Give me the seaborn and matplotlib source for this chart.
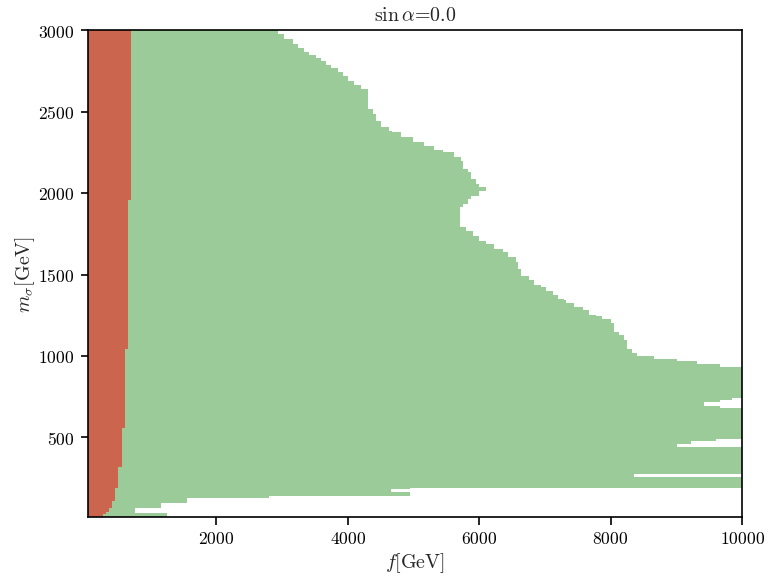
import numpy as np
import matplotlib
matplotlib.use("Agg")
import matplotlib.pyplot as plt
import seaborn as sns

sns.set_theme(style="ticks", context="notebook")
plt.rcParams['font.family'] = ['cmr10', 'DejaVu Serif']
plt.rcParams['mathtext.fontset'] = 'cm'
plt.rcParams['axes.formatter.use_mathtext'] = True
plt.rcParams['axes.unicode_minus'] = False

# red region: right edge f [GeV] for m_sigma bands starting at red_m
red_m = [10, 28, 45, 69, 110, 187, 320, 560, 1045, 1960, 3000]
red_f = [277, 328, 363, 413, 459, 510, 560, 608, 658, 708, 708]

# green region: right edge f [GeV], value holds upward from each m_sigma
edge_m = [10, 935, 950, 969, 984, 1001, 1021, 1045, 1096, 1127,
          1148, 1205, 1229, 1246, 1254, 1280, 1301, 1327, 1341, 1352,
          1372, 1402, 1423, 1433, 1464, 1494, 1535, 1576, 1607, 1638,
          1658, 1689, 1709, 1739, 1770, 1791, 1883, 1913, 1934, 1964,
          1985, 2015, 2036, 2056, 2087, 2128, 2148, 2199, 2220, 2250,
          2266, 2291, 2312, 2342, 2373, 2383, 2404, 2444, 2485, 2516,
          2608, 2638, 2665, 2689, 2720, 2741, 2767, 2787, 2808, 2832,
          2848, 2869, 2890, 2914, 2945, 2975, 3000]
edge_f = [10000, 9658, 9321, 9017, 8662, 8409, 8333, 8257, 8206, 8130,
          8054, 8004, 7877, 7776, 7674, 7573, 7446, 7320, 7294, 7193,
          7117, 7016, 6940, 6838, 6762, 6636, 6585, 6560, 6433, 6357,
          6230, 6104, 6002, 5901, 5800, 5709, 5709, 5749, 5825, 5876,
          6002, 6104, 6002, 5952, 5876, 5825, 5749, 5724, 5622, 5445,
          5318, 5166, 4989, 4812, 4680, 4634, 4508, 4432, 4381, 4305,
          4305, 4204, 4102, 4001, 3925, 3849, 3748, 3672, 3596, 3520,
          3418, 3342, 3241, 3165, 3038, 2937, 2886]

# excluded strip at low m_sigma (as function of f)
gap_f = [760, 1165, 1255, 1555, 2810, 4660, 4950, 10000]
gap_lo = [39, 39, 10, 10, 10, 10, 10, 10]
gap_hi = [69, 96, 96, 126, 143, 143, 192, 192]

# excluded holes inside the green region
hole_f0 = [9420, 9660, 9850, 9017, 9220, 9610, 8358, 4660]
hole_f1 = [10000, 10000, 10000, 10000, 10000, 10000, 10000, 4950]
hole_lo = [695, 682, 682, 441, 441, 443, 259, 168]
hole_hi = [717, 730, 745, 457, 476, 489, 277, 184]

green = '#9bcb98'
red = '#cc654d'
f_min, f_max = 50, 10000
m_min, m_max = 10, 3000

fig = plt.figure(figsize=(6.4, 4.84), dpi=120)
ax = fig.add_axes([0.1146, 0.108, 0.8516, 0.8386])

ax.fill_betweenx(edge_m, f_min, edge_f, step='post', color=green, lw=0)
ax.fill_between(gap_f, gap_lo, gap_hi, step='post', color='white', lw=0)
for f0, f1, lo, hi in zip(hole_f0, hole_f1, hole_lo, hole_hi):
    ax.fill_between([f0, f1], lo, hi, color='white', lw=0)
ax.fill_betweenx(red_m, f_min, red_f, step='post', color=red, lw=0)

ax.set_xlim(f_min, f_max)
ax.set_ylim(m_min, m_max)
ax.set_xticks([2000, 4000, 6000, 8000, 10000])
ax.set_yticks([500, 1000, 1500, 2000, 2500, 3000])
for s in ax.spines.values():
    s.set_color('black')
    s.set_linewidth(1.0)
ax.tick_params(colors='black', labelsize=10.5, width=1.0, length=4.5)

ax.set_title(r'$\sin\alpha$=0.0', fontsize=12)
ax.set_xlabel(r'$f[\mathrm{GeV}]$', fontsize=12, labelpad=2)
ax.set_ylabel(r'$m_\sigma[\mathrm{GeV}]$', fontsize=12, labelpad=1)

fig.savefig('out.png')
plt.close(fig)
